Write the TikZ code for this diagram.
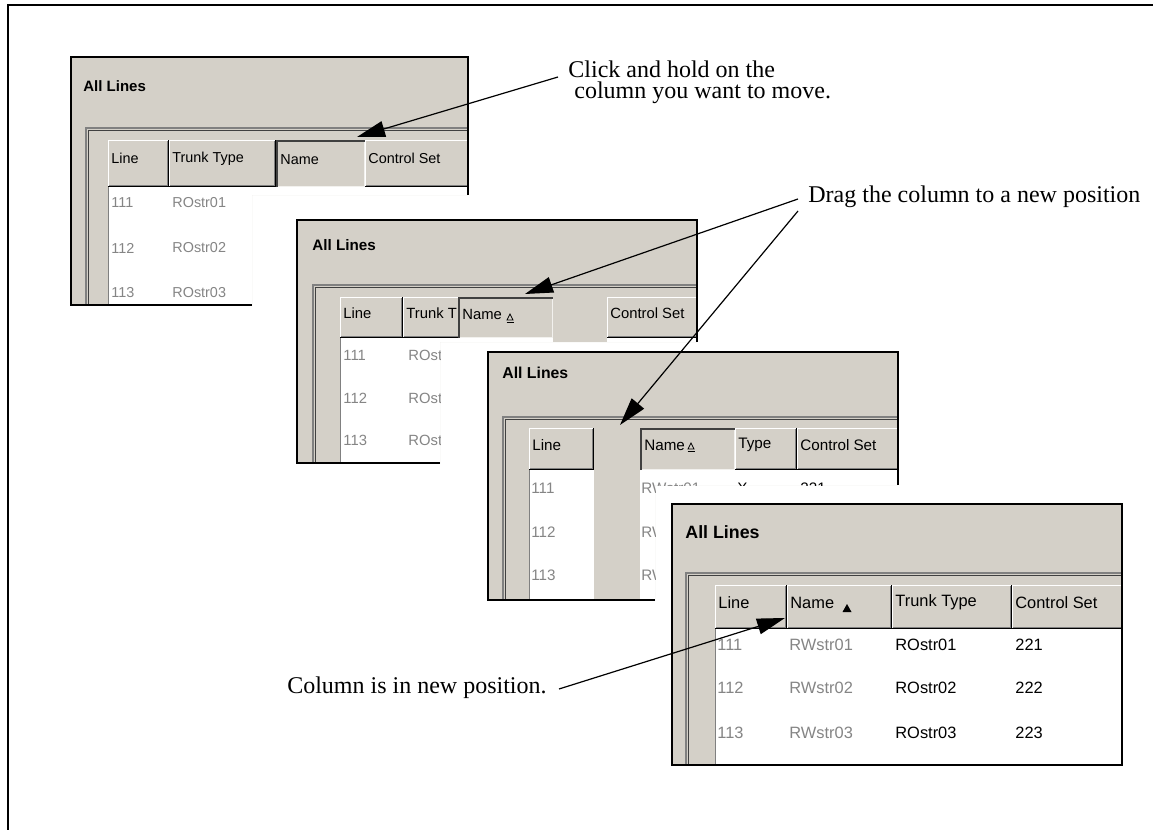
\documentclass[tikz,border=0pt]{standalone}
\usepackage{fontspec}
\setmainfont{Liberation Serif}
\setsansfont{Liberation Sans}
\usetikzlibrary{arrows.meta}
\definecolor{wingray}{HTML}{D4D0C8}
\definecolor{shadegray}{HTML}{808080}
\definecolor{edgedark}{HTML}{404040}
\definecolor{rowgray}{HTML}{858585}
\tikzset{
  winborder/.style={draw=black, line width=0.8pt},
  wintitle/.style={font=\sffamily\bfseries\fontsize{\titlept}{\titlept}\selectfont, anchor=west, inner sep=0},
  celltxt/.style={font=\sffamily\fontsize{\cellpt}{\cellpt}\selectfont, anchor=west, inner sep=0},
  rowtxt/.style={celltxt, text=rowgray},
  note/.style={font=\fontsize{12}{10.5}\selectfont, inner sep=0, align=left},
  callout/.style={line width=0.6pt, -{Triangle[length=14pt,width=8pt]}},
}
\newcommand{\winfont}[2]{\def\cellpt{#1}\def\titlept{#2}}
% raised header cell: name, x1, y1, x2, y2, label
\newcommand{\hcell}[6]{\fill[wingray] (#2,#3) rectangle (#4,#5);
  \draw[white, line width=0.5pt] (#2+0.5,#5-1) -- (#2+0.5,#3+0.5) -- (#4-1,#3+0.5);
  \draw[shadegray, line width=0.5pt] (#2+1,#5-1.5) -- (#4-1.5,#5-1.5) -- (#4-1.5,#3+1);
  \draw[black, line width=0.5pt] (#2,#5-0.5) -- (#4-0.5,#5-0.5) -- (#4-0.5,#3);
  \node[celltxt] (#1) at (#2+3,{#3+0.4*(#5-#3)}) {#6};}
% pressed header cell (the one being dragged)
\newcommand{\pcell}[6]{\fill[wingray] (#2,#3) rectangle (#4,#5);
  \draw[edgedark, line width=1pt] (#2+1,#5) -- (#2+1,#3+1) -- (#4,#3+1);
  \draw[white!70!wingray, line width=0.5pt] (#2+2,#5-0.5) -- (#4-0.5,#5-0.5) -- (#4-0.5,#3+2);
  \node[celltxt] (#1) at (#2+4,{#3+0.4*(#5-#3)+1}) {#6};}
% inner frame: frame corner x,y, table corner x,y, header bottom
\newcommand{\innerframe}[5]{\draw[shadegray, line width=1.2pt] (#1,#2) rectangle (1200,900);
  \draw[edgedark, line width=0.8pt] (#1+2.5,#2+2.5) rectangle (1200,900);
  \fill[white] (#3,#5) rectangle (1200,900);
  \draw[shadegray, line width=0.5pt] (#3+0.5,#4) -- (#3+0.5,900);}
\newcommand{\sorthollow}[2]{\draw[black, line width=0.4pt] (#1-3,#2+2) -- (#1,#2-4) -- (#1+3,#2+2) -- cycle;
  \draw[black, line width=0.4pt] (#1-3.5,#2+4.5) -- (#1+3.5,#2+4.5);}
\newcommand{\sortfull}[2]{\fill[black] (#1-4.5,#2+4) -- (#1,#2-4) -- (#1+4.5,#2+4) -- cycle;}

\begin{document}
\begin{tikzpicture}[x=0.5pt,y=-0.5pt]
\useasboundingbox (0,0) rectangle (1153,830);
\draw[line width=1.2pt] (8,830) -- (8,5) -- (1153,5);

% window 1: click on the column
\begin{scope}
  \winfont{7.2}{7.5}
  \clip (71,57) -- (468,57) -- (468,195) -- (252,195) -- (252,305) -- (71,305) -- cycle;
  \fill[wingray] (71,57) rectangle (468,305);
  \node[wintitle] (w1title) at (83,86) {All Lines};
  \innerframe{86}{128}{108}{140}{187}
  \hcell{w1line}{108}{140}{169}{187}{Line}
  \hcell{w1trunk}{169}{140}{276}{187}{Trunk Type}
  \pcell{w1name}{276}{140}{365}{187}{Name}
  \hcell{w1ctrl}{365}{140}{480}{187}{Control Set}
  \foreach \n/\y in {1/203,2/248,3/293}{
    \node[rowtxt] (w1l\n) at (111,\y) {11\n};
    \node[rowtxt] (w1t\n) at (172,\y) {ROstr0\n};}
\end{scope}
\draw[winborder] (252,305) -- (71,305) -- (71,57) -- (468,57) -- (468,195);

% window 2: column lifted
\begin{scope}
  \winfont{7.4}{7.6}
  \clip (297,220) -- (697,220) -- (697,342) -- (440,342) -- (440,463) -- (297,463) -- cycle;
  \fill[wingray] (297,220) rectangle (697,463);
  \node[wintitle] (w2title) at (312,245) {All Lines};
  \innerframe{313}{285}{340}{297}{338}
  \hcell{w2line}{340}{297}{403}{338}{Line}
  \hcell{w2trunk}{403}{297}{470}{338}{Trunk T}
  \pcell{w2name}{458}{297}{553}{338}{Name}
  \fill[wingray] (553,297) rectangle (607,342);
  \hcell{w2ctrl}{607}{297}{710}{338}{Control Set}
  \sorthollow{510}{318}
  \foreach \n/\y in {1/355,2/398,3/440}{
    \node[rowtxt] (w2l\n) at (343,\y) {11\n};
    \node[rowtxt] (w2t\n) at (408,\y) {ROst};}
\end{scope}
\draw[winborder] (440,463) -- (297,463) -- (297,220) -- (697,220) -- (697,342);

% window 3: column moved over
\begin{scope}
  \winfont{7.6}{7.9}
  \clip (488,352) -- (898,352) -- (898,485) -- (655,485) -- (655,600) -- (488,600) -- cycle;
  \fill[wingray] (488,352) rectangle (898,600);
  \node[wintitle] (w3title) at (502,373) {All Lines};
  \innerframe{503}{417}{529}{428}{470}
  \hcell{w3line}{529}{428}{594}{470}{Line}
  \fill[wingray] (594,428) rectangle (640,700);
  \pcell{w3name}{640}{428}{735}{470}{Name}
  \hcell{w3type}{735}{428}{797}{470}{Type}
  \hcell{w3ctrl}{797}{428}{910}{470}{Control Set}
  \sorthollow{691}{447}
  \foreach \n/\y in {1/488,2/532,3/575}{
    \node[rowtxt] (w3l\n) at (531,\y) {11\n};}
  \node[rowtxt] (w3n1) at (641,488) {RWstr01};
  \node[celltxt] (w3x1) at (737,488) {X};
  \node[celltxt] (w3c1) at (800,488) {221};
  \node[rowtxt] (w3n2) at (641,532) {RW};
  \node[rowtxt] (w3n3) at (641,575) {RW};
\end{scope}
\draw[winborder] (655,600) -- (488,600) -- (488,352) -- (898,352) -- (898,485);

% window 4: new order
\begin{scope}
  \winfont{8.2}{8.9}
  \clip (672,504) rectangle (1122,765);
  \fill[wingray] (672,504) rectangle (1122,765);
  \node[wintitle] (w4title) at (685,532) {All Lines};
  \innerframe{686}{573}{715}{585}{629}
  \hcell{w4line}{715}{585}{787}{629}{Line}
  \hcell{w4name}{787}{585}{892}{629}{Name}
  \hcell{w4trunk}{892}{585}{1012}{629}{Trunk Type}
  \hcell{w4ctrl}{1012}{585}{1130}{629}{Control Set}
  \sortfull{847}{608}
  \foreach \n/\y in {1/645,2/688,3/733}{
    \node[rowtxt] (w4l\n) at (717,\y) {11\n};
    \node[rowtxt] (w4n\n) at (789,\y) {RWstr0\n};
    \node[celltxt] (w4t\n) at (895,\y) {ROstr0\n};
    \node[celltxt] (w4c\n) at (1015,\y) {22\n};}
\end{scope}
\draw[winborder] (672,504) rectangle (1122,765);

% callouts
\node[note, anchor=west] (click) at (568,82) {Click and hold on the\\\hspace*{3pt}column you want to move.};
\node[note, anchor=west] (drag) at (808,197) {Drag the column to a new position};
\node[note, anchor=east] (newpos) at (547,688) {Column is in new position.};
\coordinate (tipA) at (357,137);
\coordinate (tipB) at (525,294);
\coordinate (tipC) at (620,425);
\coordinate (tipD) at (785,618);
\draw[callout] ([shift={(-10,-5)}]click.west) -- (tipA);
\draw[callout] ([shift={(-10,2)}]drag.west) -- (tipB);
\draw[callout] ([shift={(-10,14)}]drag.west) -- (tipC);
\draw[callout] ([shift={(12,1)}]newpos.east) -- (tipD);
\end{tikzpicture}
\end{document}
